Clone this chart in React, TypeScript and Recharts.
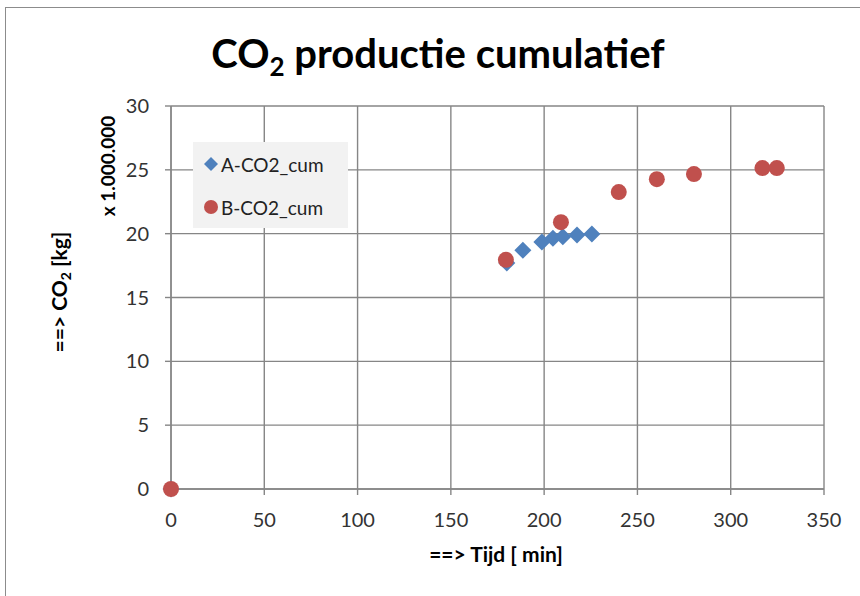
import { ScatterChart, Scatter, XAxis, YAxis, CartesianGrid } from 'recharts';

// tijd in minuten, CO2 in miljoen kg
const tijdA = [0, 180, 188.6, 198.8, 204.7, 210, 217.6, 225.6];
const co2A = [0, 17.7, 18.7, 19.35, 19.65, 19.75, 19.9, 19.97];
const tijdB = [0, 179.5, 209, 240, 260.4, 280.3, 317, 324.7];
const co2B = [0, 17.95, 20.9, 23.26, 24.27, 24.67, 25.14, 25.14];

const xTicks = [0, 50, 100, 150, 200, 250, 300, 350];
const yTicks = [0, 5, 10, 15, 20, 25, 30];

const seriesA = tijdA.map((t, i) => ({ x: t, y: co2A[i] }));
const seriesB = tijdB.map((t, i) => ({ x: t, y: co2B[i] }));

const BLUE = '#4f81bd';
const RED = '#c0504d';
const FONT = 'Lato, "Open Sans", sans-serif';

const Diamond = (props: any) => {
  const { cx, cy } = props;
  const r = 8.5;
  return (
    <polygon
      points={`${cx},${cy - r} ${cx + r},${cy} ${cx},${cy + r} ${cx - r},${cy}`}
      fill={BLUE}
    />
  );
};

const Dot = (props: any) => {
  const { cx, cy } = props;
  return <circle cx={cx} cy={cy} r={8} fill={RED} />;
};

const LegendBox = () => (
  <div
    style={{
      position: 'absolute',
      left: 193,
      top: 142,
      background: '#f2f2f2',
      width: 155,
      height: 86,
      fontSize: 19,
      color: '#222',
    }}
  >
    <div style={{ position: 'absolute', left: 11, top: 10, display: 'flex', alignItems: 'center', height: 24 }}>
      <svg width={14} height={14} style={{ marginRight: 3 }}>
        <polygon points="7,0 14,7 7,14 0,7" fill={BLUE} />
      </svg>
      A-CO2_cum
    </div>
    <div style={{ position: 'absolute', left: 11, top: 53, display: 'flex', alignItems: 'center', height: 24 }}>
      <svg width={14} height={14} style={{ marginRight: 3 }}>
        <circle cx={7} cy={7} r={7} fill={RED} />
      </svg>
      B-CO2_cum
    </div>
  </div>
);

export default function App() {
  return (
    <div
      style={{
        position: 'fixed',
        left: 0,
        top: 0,
        width: 860,
        height: 596,
        overflow: 'hidden',
        background: '#fff',
        fontFamily: FONT,
      }}
    >
      <div
        style={{
          position: 'absolute',
          left: 5,
          top: 7,
          width: 900,
          height: 700,
          border: '1px solid #8c8c8c',
        }}
      />
      <div
        style={{
          position: 'absolute',
          left: 0,
          width: 876,
          top: 29,
          textAlign: 'center',
          fontSize: 40,
          fontWeight: 700,
          color: '#000',
          whiteSpace: 'nowrap',
        }}
      >
        CO<sub style={{ fontSize: 26, verticalAlign: -8 }}>2</sub> productie cumulatief
      </div>
      <div style={{ position: 'absolute', left: 0, top: 0 }}>
        <ScatterChart
          width={860}
          height={596}
          margin={{ top: 106, right: 36, left: 111, bottom: 67 }}
        >
          <CartesianGrid stroke="#868686" strokeWidth={1.4} />
          <XAxis
            type="number"
            dataKey="x"
            domain={[0, 350]}
            ticks={xTicks}
            height={40}
            stroke="#868686"
            strokeWidth={1.4}
            tickSize={6}
            tickMargin={18}
            tick={{ fill: '#333', fontSize: 20, fontFamily: FONT }}
            interval={0}
          />
          <YAxis
            type="number"
            dataKey="y"
            domain={[0, 30]}
            ticks={yTicks}
            width={60}
            stroke="#868686"
            strokeWidth={1.4}
            tickSize={6}
            tickMargin={16}
            tick={{ fill: '#333', fontSize: 20, fontFamily: FONT }}
            interval={0}
          />
          <Scatter name="A-CO2_cum" data={seriesA} fill={BLUE} shape={<Diamond />} isAnimationActive={false} />
          <Scatter name="B-CO2_cum" data={seriesB} fill={RED} shape={<Dot />} isAnimationActive={false} />
        </ScatterChart>
      </div>
      <LegendBox />
      <div
        style={{
          position: 'absolute',
          left: 346,
          width: 300,
          top: 541,
          textAlign: 'center',
          fontSize: 21,
          fontWeight: 700,
          whiteSpace: 'nowrap',
        }}
      >
        ==&gt; Tijd [ min]
      </div>
      <div
        style={{
          position: 'absolute',
          left: 60,
          top: 292,
          transform: 'translate(-50%, -50%) rotate(-90deg)',
          whiteSpace: 'nowrap',
          fontSize: 21,
          fontWeight: 700,
        }}
      >
        ==&gt; CO<sub style={{ fontSize: 14, verticalAlign: -4 }}>2</sub> [kg]
      </div>
      <div
        style={{
          position: 'absolute',
          left: 107,
          top: 166,
          transform: 'translate(-50%, -50%) rotate(-90deg)',
          whiteSpace: 'nowrap',
          fontSize: 19,
          fontWeight: 700,
        }}
      >
        x 1.000.000
      </div>
    </div>
  );
}
